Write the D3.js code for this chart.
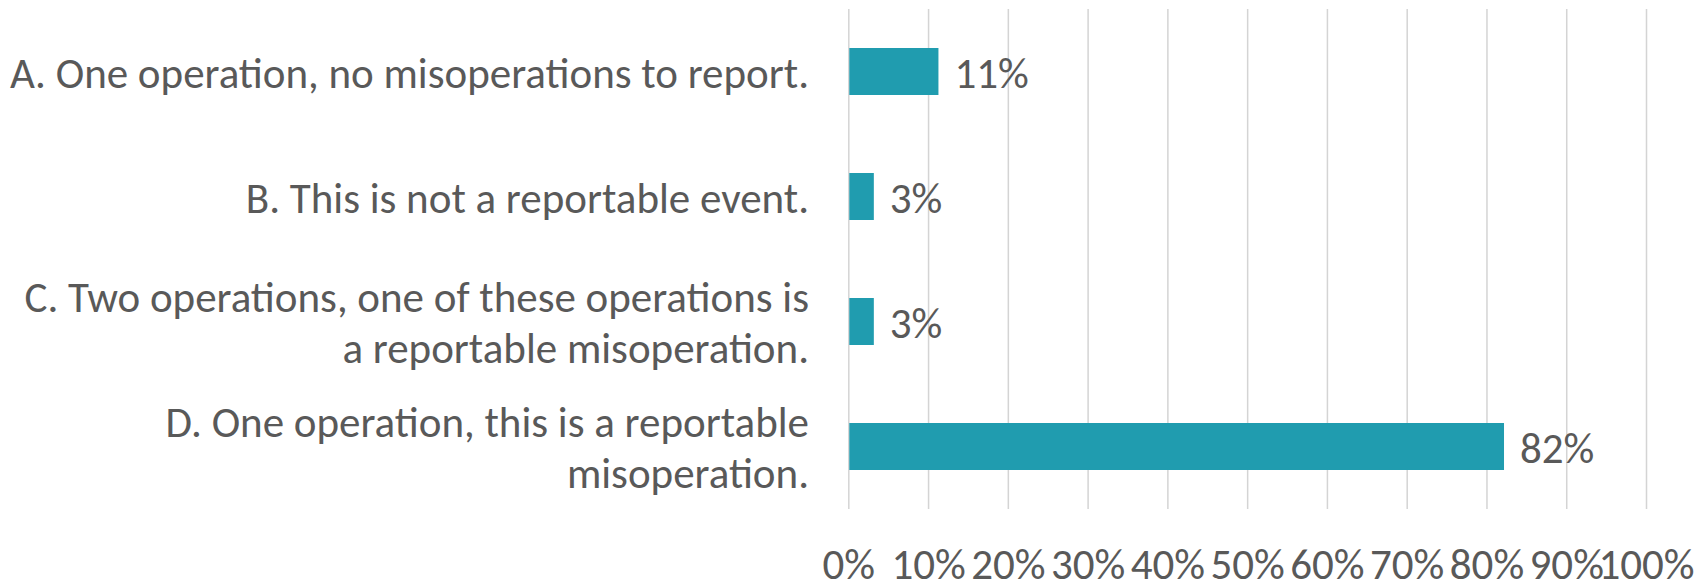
<!DOCTYPE html>
<html>
<head>
<meta charset="utf-8">
<script src="https://cdn.jsdelivr.net/npm/d3@7"></script>
<style>
    html, body { margin: 0; padding: 0; background: #fff; }
    svg { display: block; font-family: Carlito, Lato, sans-serif; }
</style>
</head>
<body>
<svg id="chart"></svg>
<script>
// answer options, top to bottom ("\n" marks a line break in the label)
const categories = [
    "A. One operation, no misoperations to report.",
    "B. This is not a reportable event.",
    "C. Two operations, one of these operations is\na reportable misoperation.",
    "D. One operation, this is a reportable\nmisoperation."
];
const shares = [0.113, 0.032, 0.032, 0.822];
const xTicks = [0, 0.1, 0.2, 0.3, 0.4, 0.5, 0.6, 0.7, 0.8, 0.9, 1];

const config = {
    width: 1707,
    height: 581,
    plotLeft: 848.3,
    plotRight: 1646,
    plotTop: 9,
    plotBottom: 509,
    barColor: "#209caf",
    textColor: "#595959",
    gridColor: "#d4d4d4",
    fontSize: 43,
    lineHeight: 51
};

const pct = d3.format(".0%");

const svg = d3.select("#chart")
    .attr("width", config.width)
    .attr("height", config.height);

const x = d3.scaleLinear()
    .domain([0, 1])
    .range([config.plotLeft, config.plotRight]);

const y = d3.scaleBand()
    .domain(d3.range(categories.length))
    .range([config.plotTop, config.plotBottom])
    .paddingInner(0.624)
    .paddingOuter(0.312);

// vertical gridlines + percent tick labels
const xAxis = d3.axisBottom(x)
    .tickValues(xTicks)
    .tickFormat(pct)
    .tickSize(-(config.plotBottom - config.plotTop))
    .tickPadding(39);

const axisG = svg.append("g")
    .attr("transform", `translate(0, ${config.plotBottom})`)
    .call(xAxis);
axisG.select(".domain").remove();
axisG.selectAll(".tick line")
    .attr("stroke", config.gridColor)
    .attr("stroke-width", 1.5);
axisG.selectAll(".tick text")
    .attr("fill", config.textColor)
    .style("font-family", "Carlito, Lato, sans-serif")
    .style("font-size", `${config.fontSize}px`);

// bars
svg.append("g")
    .selectAll("rect")
    .data(shares)
    .join("rect")
    .attr("x", x(0) + 1)
    .attr("y", (d, i) => y(i))
    .attr("width", (d) => x(d) - x(0) - 1)
    .attr("height", y.bandwidth())
    .attr("fill", config.barColor);

// value labels
svg.append("g")
    .selectAll("text")
    .data(shares)
    .join("text")
    .attr("x", (d) => x(d) + 16)
    .attr("y", (d, i) => y(i) + y.bandwidth() / 2 + 1)
    .attr("dy", "0.35em")
    .attr("fill", config.textColor)
    .style("font-size", `${config.fontSize}px`)
    .text((d) => pct(d));

// category labels, right aligned against the plot
const labels = svg.append("g")
    .selectAll("text")
    .data(categories)
    .join("text")
    .attr("text-anchor", "end")
    .attr("fill", config.textColor)
    .style("font-size", `${config.fontSize}px`);

labels.each(function (d, i) {
    const lines = d.split("\n");
    const mid = y(i) + y.bandwidth() / 2 + 1;
    d3.select(this).selectAll("tspan")
        .data(lines)
        .join("tspan")
        .attr("x", 809)
        .attr("y", (l, k) => mid + (k - (lines.length - 1) / 2) * config.lineHeight)
        .attr("dy", "0.35em")
        .text((l) => l);
});
</script>
</body>
</html>
